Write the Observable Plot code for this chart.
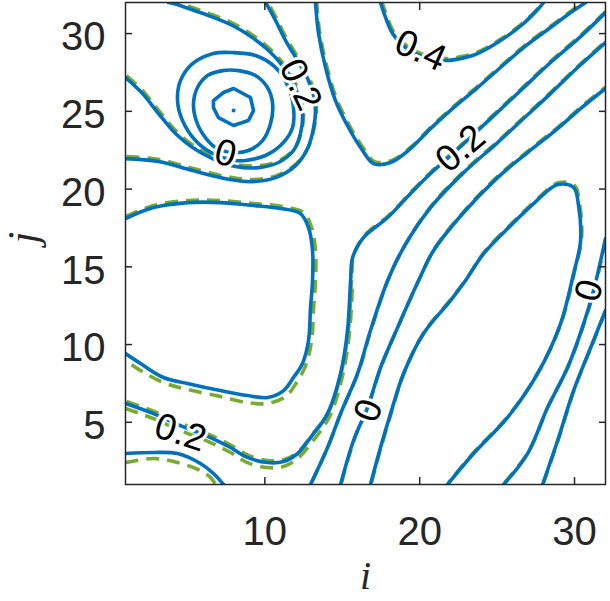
<!DOCTYPE html>
<html><head><meta charset="utf-8">
<script src="https://cdn.jsdelivr.net/npm/d3@7"></script>
<script src="https://cdn.jsdelivr.net/npm/@observablehq/plot@0.6"></script>
<style>html,body{margin:0;padding:0;background:#fff;} svg{display:block}</style>
</head><body><div id="chart"></div>
<script>
const xTicks = [10, 20, 30];
const yTicks = [5, 10, 15, 20, 25, 30];

// blue (solid) contour lines, [i, j] pairs
const ring1 = [[6.68,25.69],[7.33,26.21],[7.98,26.47],[9.07,25.89],[9.27,25.05],[8.94,24.41],[7.98,24.09],[7.00,24.60],[6.68,25.24]];
const ring2 = [[5.39,25.50],[5.65,26.53],[6.30,27.30],[7.27,27.62],[8.30,27.62],[9.40,27.30],[10.17,26.53],[10.50,25.50],[10.37,24.22],[9.85,23.12],[8.94,22.48],[7.91,22.35],[6.81,22.67],[5.97,23.57],[5.52,24.54]];
const ring3 = [[4.36,25.69],[4.55,26.98],[5.33,28.07],[6.62,28.71],[7.91,28.78],[9.40,28.59],[10.69,27.82],[11.53,26.53],[11.85,25.24],[11.79,23.96],[11.14,22.93],[10.04,22.16],[8.75,21.84],[8.11,21.84],[6.62,22.29],[5.52,23.12],[4.68,24.41]];
const peakPoint = [[7.98,25.05]];
const innerArc = [[1.00,27.17],[2.10,26.14],[3.13,24.86],[4.23,23.57],[5.33,22.67],[6.62,21.96],[8.11,21.45],[9.59,21.38],[10.88,21.71],[11.85,22.48],[12.30,23.57],[12.43,24.86],[12.18,25.89],[11.79,26.98],[11.14,27.94],[10.24,28.91],[9.20,29.74],[7.91,30.52],[6.36,31.16],[5.07,31.61],[4.10,31.93],[3.78,32.00]];
const outerArc = [[1.00,21.96],[3.13,21.77],[5.33,21.19],[7.46,20.67],[9.20,20.48],[10.69,20.74],[11.98,21.51],[12.76,22.61],[13.15,23.96],[13.27,25.05],[13.15,26.02],[12.76,27.11],[12.11,28.27],[11.34,29.55],[10.69,30.84],[10.17,31.80],[10.04,32.00]];
const uCurve = [[13.27,32.00],[13.47,30.00],[13.92,27.82],[14.56,25.69],[15.40,23.96],[16.31,22.48],[17.02,21.64],[18.12,21.71],[19.41,22.61],[20.70,23.89],[22.19,25.24],[23.74,26.53],[25.22,27.82],[26.71,29.10],[28.45,30.39],[29.94,31.48],[30.72,32.00]];
const topCurve = [[17.47,32.00],[17.80,31.03],[18.25,30.00],[19.09,29.10],[20.38,28.46],[21.67,28.27],[22.64,28.39],[23.74,28.71],[25.22,29.55],[26.71,30.65],[27.68,31.61],[28.00,32.00]];
const lineB = [[1.00,6.21],[2.81,5.56],[4.55,4.79],[6.49,4.02],[7.78,3.38],[8.88,2.74],[10.17,2.41],[11.21,2.48],[12.11,2.99],[12.95,4.02],[14.05,5.56],[14.89,8.14],[15.34,10.90],[15.54,14.12],[15.67,15.60],[16.37,16.88],[17.93,18.17],[19.41,19.71],[20.70,21.00],[22.64,22.73],[24.58,24.53],[26.52,26.34],[28.45,28.14],[30.39,29.81],[32.00,31.35]];
const lineC = [[12.95,1.00],[14.05,3.38],[14.89,5.56],[15.99,8.14],[16.82,10.90],[17.93,14.12],[18.96,16.24],[20.70,18.81],[22.84,21.06],[25.03,22.99],[26.71,24.54],[28.45,26.14],[30.20,27.82],[32.00,29.42]];
const lineD = [[14.89,1.00],[15.73,3.83],[16.63,5.95],[17.47,8.52],[18.57,11.09],[19.93,14.12],[20.90,16.05],[22.84,18.49],[25.03,20.74],[26.97,22.35],[28.91,23.89],[30.39,25.18],[32.00,26.47]];
const teardrop = [[16.82,1.00],[17.47,3.38],[18.12,5.56],[18.96,8.14],[20.25,10.71],[21.99,12.83],[22.96,14.12],[24.13,15.85],[25.87,17.65],[27.36,19.07],[28.91,20.29],[29.94,20.10],[30.26,18.94],[30.39,16.69],[29.94,14.57],[29.10,11.35],[27.62,8.14],[25.68,5.31],[23.48,2.99],[21.80,1.00]];
const lineG = [[25.42,1.00],[26.97,2.99],[28.26,5.95],[29.55,8.52],[30.59,11.35],[31.23,13.48],[31.69,15.41],[32.00,16.82]];
const lineH = [[27.94,1.00],[28.91,3.83],[29.94,7.04],[31.23,10.26],[32.00,12.19]];
const squareLoop = [[1.00,18.10],[2.81,18.81],[5.01,19.13],[7.13,19.13],[9.27,18.94],[11.01,18.75],[12.30,18.42],[12.82,17.52],[13.08,16.05],[13.08,14.12],[12.95,12.38],[12.82,10.26],[12.43,8.78],[11.85,7.88],[11.21,7.04],[10.17,6.59],[8.88,6.72],[7.13,7.04],[5.01,7.49],[3.45,7.88],[1.97,8.78],[1.00,9.42]];
const lowCurve = [[1.00,2.99],[2.81,3.06],[4.36,2.99],[5.84,2.35],[6.68,1.71],[7.33,1.00]];

// green (dashed) lines where they part from the blue ones
const squareLoopGreen = [[1.00,18.23],[2.81,18.94],[5.01,19.26],[7.13,19.26],[9.27,19.07],[11.14,18.88],[12.50,18.49],[13.02,17.52],[13.27,16.05],[13.27,14.12],[13.15,12.38],[13.02,10.26],[12.63,8.65],[12.05,7.56],[11.34,6.66],[10.17,6.21],[8.88,6.27],[7.13,6.66],[5.01,7.11],[3.45,7.56],[1.97,8.33],[1.00,8.97]];
const lineBGreen = [[1.00,5.89],[2.81,5.24],[4.55,4.47],[6.49,3.70],[7.78,3.06],[8.88,2.41],[10.17,2.09],[11.21,2.16],[12.11,2.67],[13.08,3.77],[14.18,5.37],[15.02,8.01],[15.47,10.84],[15.67,14.12]];
const lowCurveGreen = [[1.00,2.41],[2.81,2.67],[4.36,2.41],[5.84,1.90],[6.49,1.45],[6.82,1.00]];

// contour labels
const labelText = ["0.4", "0.2", "0.2", "0", "0.2", "0", "0"];
const labelI = [20.06, 22.64, 12.30, 7.46, 4.55, 16.70, 30.95];
const labelJ = [28.91, 22.61, 26.72, 22.29, 4.34, 5.76, 13.48];
const labelAngle = [24, -40, 65, 15, 18, -70, -75];

const blue = "#0072BD", green = "#77AC30", ink = "#262626";
const sans = "Liberation Sans, Arial, Helvetica, sans-serif";

const rows = (name, pts) => pts.map(([i, j]) => ({name, i, j}));
const openBlue = [
  ["innerArc", innerArc], ["outerArc", outerArc], ["uCurve", uCurve], ["topCurve", topCurve],
  ["lineB", lineB], ["lineC", lineC], ["lineD", lineD], ["teardrop", teardrop],
  ["lineG", lineG], ["lineH", lineH], ["squareLoop", squareLoop], ["lowCurve", lowCurve]
].flatMap(([n, p]) => rows(n, p));
const closedBlue = [["ring2", ring2], ["ring3", ring3]].flatMap(([n, p]) => rows(n, p));
const ring1Rows = rows("ring1", ring1);
const greenShared = [
  ["innerArc", innerArc], ["outerArc", outerArc], ["uCurve", uCurve], ["topCurve", topCurve],
  ["lineB", lineB], ["lineC", lineC], ["lineD", lineD], ["teardrop", teardrop],
  ["lineG", lineG], ["lineH", lineH]
].flatMap(([n, p]) => rows(n, p));
const greenOwn = [["sq", squareLoopGreen], ["b", lineBGreen], ["low", lowCurveGreen]].flatMap(([n, p]) => rows(n, p));
const labels = labelText.map((t, k) => ({t, i: labelI[k], j: labelJ[k], r: labelAngle[k]}));

const lineStyle = {x: "i", y: "j", z: "name", clip: true, strokeWidth: 3.6, strokeLinejoin: "round"};
const greenStyle = {...lineStyle, stroke: green, strokeDasharray: "13,8", strokeLinecap: "butt"};

const chart = Plot.plot({
  width: 610, height: 601,
  marginLeft: 125, marginRight: 5, marginTop: 2, marginBottom: 117,
  x: {domain: [1, 32]}, y: {domain: [1, 32]},
  style: {color: ink, fontFamily: sans, background: "white", overflow: "visible"},
  marks: [
    Plot.line(greenShared, {...greenStyle, curve: "catmull-rom", dx: 1, dy: -2}),
    Plot.line(greenOwn, {...greenStyle, curve: "catmull-rom"}),
    Plot.line(openBlue, {...lineStyle, stroke: blue, curve: "catmull-rom"}),
    Plot.line(closedBlue, {...lineStyle, stroke: blue, curve: "catmull-rom-closed"}),
    Plot.line(ring1Rows, {...lineStyle, stroke: blue, curve: "linear-closed"}),
    Plot.dot(peakPoint, {x: d => d[0], y: d => d[1], r: 2, fill: blue}),
    Plot.text(labels, {x: "i", y: "j", text: "t", rotate: "r", fontSize: 37, fontFamily: sans, fill: "black",
      stroke: "white", strokeWidth: 6, paintOrder: "stroke", textAnchor: "middle", lineAnchor: "middle"}),
    Plot.frame({stroke: ink, strokeWidth: 1.5}),
    Plot.axisX(xTicks, {anchor: "bottom", tickSize: 0, tickPadding: 32, fontSize: 40, fontFamily: sans, label: null}),
    Plot.axisX(xTicks, {anchor: "bottom", tickSize: -7, tickFormat: () => "", label: null, strokeWidth: 1.5}),
    Plot.axisX(xTicks, {anchor: "top", tickSize: -7, tickFormat: () => "", label: null, strokeWidth: 1.5}),
    Plot.axisY(yTicks, {anchor: "left", tickSize: 0, tickPadding: 20, fontSize: 40, fontFamily: sans, dy: 4, label: null}),
    Plot.axisY(yTicks, {anchor: "left", tickSize: -7, tickFormat: () => "", label: null, strokeWidth: 1.5}),
    Plot.axisY(yTicks, {anchor: "right", tickSize: -7, tickFormat: () => "", label: null, strokeWidth: 1.5}),
    Plot.text(["i"], {text: d => d, frameAnchor: "bottom", dy: 92, fontSize: 40, fontFamily: "Liberation Serif, serif", fontStyle: "italic", fill: ink, lineAnchor: "middle"}),
    Plot.text(["j"], {text: d => d, frameAnchor: "left", dx: -102, rotate: -90, fontSize: 42, fontFamily: "Liberation Serif, serif", fontStyle: "italic", fill: ink, lineAnchor: "middle"})
  ]
});
document.getElementById("chart").appendChild(chart);
</script>
</body></html>
